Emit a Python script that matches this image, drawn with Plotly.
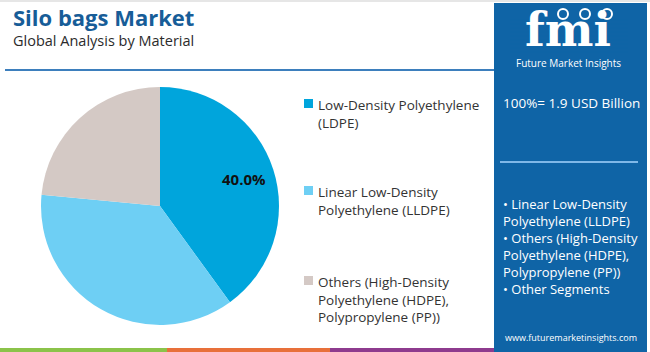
import math
import plotly.graph_objects as go

categories = ["Low-Density Polyethylene (LDPE)",
              "Linear Low-Density Polyethylene (LLDPE)",
              "Others (High-Density Polyethylene (HDPE), Polypropylene (PP))"]
legend_labels = ["Low-Density Polyethylene<br>(LDPE)",
                 "Linear Low-Density<br>Polyethylene (LLDPE)",
                 "Others (High-Density<br>Polyethylene (HDPE),<br>Polypropylene (PP))"]
values = [40.0, 36.5, 23.5]
colors = ["#00a5dc", "#6ecff4", "#d4c9c5"]
shown_labels = ["40.0%", "", ""]
panel_bullets = ["• Linear Low-Density", "Polyethylene (LLDPE)", "• Others (High-Density",
                 "Polyethylene (HDPE),", "Polypropylene (PP))", "• Other Segments"]

W, H = 650, 352
FONT = "Open Sans"
PANEL = "#0f64a6"
CX, CY, R = 160, 206, 119

def px(x):
    return x / W

def py(y):
    return 1 - y / H

fig = go.Figure()
fig.add_trace(go.Pie(
    labels=categories, values=values, sort=False, direction="clockwise", rotation=0,
    marker=dict(colors=colors, line=dict(width=0)),
    textinfo="none",
    domain=dict(x=[px(CX - R), px(CX + R)], y=[py(CY + R), py(CY - R)]),
    showlegend=False, hoverinfo="label+percent",
))

shapes = []
annotations = []

# slice labels placed along each slice's mid-angle (derived from values)
total = sum(values)
cum = 0.0
for v, lab in zip(values, shown_labels):
    mid = (cum + v / 2) / total * 2 * math.pi
    cum += v
    if not lab:
        continue
    lx = CX + 0.74 * R * math.sin(mid)
    ly = CY - 0.74 * R * math.cos(mid)
    annotations.append(dict(text="<b>%s</b>" % lab, x=px(lx), y=py(ly), xref="paper", yref="paper",
                            xanchor="center", yanchor="middle", showarrow=False,
                            font=dict(family=FONT, size=15, color="#111111")))

# top gray border and bottom color bar
shapes.append(dict(type="rect", xref="paper", yref="paper", x0=0, x1=1, y0=py(2), y1=1,
                   fillcolor="#e6e6e6", line=dict(width=0), layer="below"))
for x0, x1, c in [(0, 167, "#8bc34a"), (167, 330, "#e8703a"), (330, 494, "#8e3b8e")]:
    shapes.append(dict(type="rect", xref="paper", yref="paper", x0=px(x0), x1=px(x1),
                       y0=0, y1=py(348), fillcolor=c, line=dict(width=0)))
# title separator line
shapes.append(dict(type="line", xref="paper", yref="paper", x0=px(5), x1=px(494),
                   y0=py(70), y1=py(70), line=dict(color="#3d7fbd", width=2)))
# right panel
shapes.append(dict(type="rect", xref="paper", yref="paper", x0=px(494), x1=px(647),
                   y0=0, y1=py(3), fillcolor=PANEL, line=dict(width=0)))
shapes.append(dict(type="line", xref="paper", yref="paper", x0=px(500), x1=px(638),
                   y0=py(162), y1=py(162), line=dict(color="#7fb8e8", width=2)))

# title
annotations.append(dict(text="<b>Silo bags Market</b>", x=px(11), y=py(17), xref="paper", yref="paper",
                        xanchor="left", yanchor="middle", showarrow=False,
                        font=dict(family=FONT, size=22, color="#175d98")))
annotations.append(dict(text="Global Analysis by Material", x=px(11), y=py(41), xref="paper", yref="paper",
                        xanchor="left", yanchor="middle", showarrow=False,
                        font=dict(family=FONT, size=14.5, color="#2b2b2b")))

# legend built from categories
legend_tops = [94, 181, 271]
for lab, c, top in zip(legend_labels, colors, legend_tops):
    shapes.append(dict(type="rect", xref="paper", yref="paper", x0=px(304), x1=px(313),
                       y0=py(top + 14), y1=py(top + 5), fillcolor=c, line=dict(width=0)))
    annotations.append(dict(text=lab, x=px(316), y=py(top), xref="paper", yref="paper",
                            xanchor="left", yanchor="top", align="left", showarrow=False,
                            font=dict(family=FONT, size=13.5, color="#333333")))

# logo
annotations.append(dict(text="<b>fmi</b>", x=px(568), y=py(30), xref="paper", yref="paper",
                        xanchor="center", yanchor="middle", showarrow=False,
                        font=dict(family="DejaVu Serif", size=46, color="white")))
for yy in range(20, 54, 4):
    shapes.append(dict(type="line", xref="paper", yref="paper", x0=px(510), x1=px(628),
                       y0=py(yy), y1=py(yy), line=dict(color=PANEL, width=1)))
for cx in [563, 585, 607]:
    shapes.append(dict(type="circle", xref="paper", yref="paper", x0=px(cx - 5), x1=px(cx + 5),
                       y0=py(19), y1=py(9), fillcolor=PANEL, line=dict(color="white", width=2)))
annotations.append(dict(text="Future Market Insights", x=px(568), y=py(63), xref="paper", yref="paper",
                        xanchor="center", yanchor="middle", showarrow=False,
                        font=dict(family=FONT, size=10, color="white")))

annotations.append(dict(text="100%= 1.9 USD Billion", x=px(501), y=py(103), xref="paper", yref="paper",
                        xanchor="left", yanchor="middle", showarrow=False,
                        font=dict(family=FONT, size=13.5, color="white")))
annotations.append(dict(text="<br>".join(panel_bullets), x=px(501), y=py(193), xref="paper", yref="paper",
                        xanchor="left", yanchor="top", align="left", showarrow=False,
                        font=dict(family=FONT, size=13, color="white")))
annotations.append(dict(text="www.futuremarketinsights.com", x=px(571), y=py(337), xref="paper", yref="paper",
                        xanchor="center", yanchor="middle", showarrow=False,
                        font=dict(family=FONT, size=9, color="white")))

fig.update_layout(width=W, height=H, margin=dict(l=0, r=0, t=0, b=0),
                  paper_bgcolor="white", plot_bgcolor="white",
                  shapes=shapes, annotations=annotations, showlegend=False)
fig.write_html("out.html")
